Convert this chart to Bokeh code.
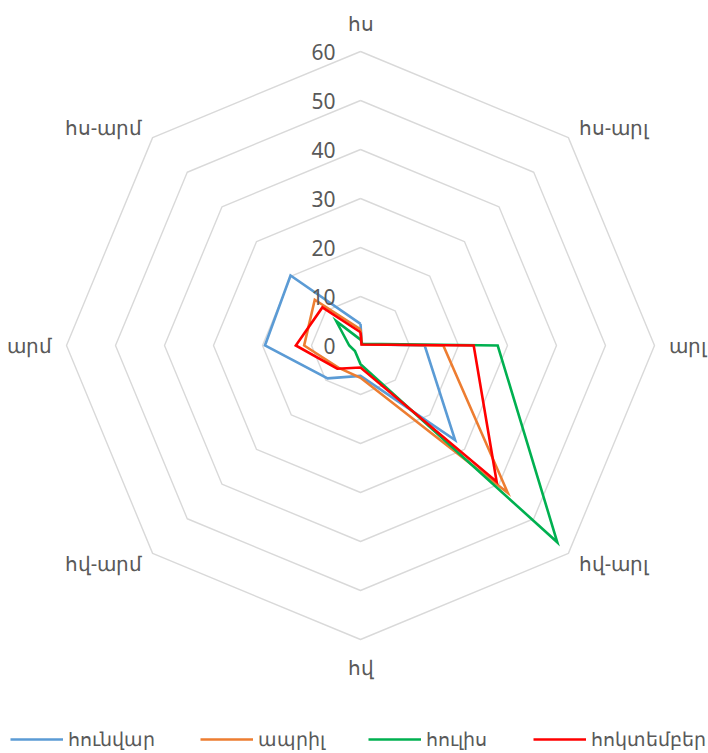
import numpy as np
from bokeh.plotting import figure
from bokeh.models import Range1d, ColumnDataSource, Legend, LegendItem
from bokeh.core.properties import value
from bokeh.embed import file_html
from bokeh.resources import INLINE

# ---- data ----
categories = ["հս", "հս-արլ", "արլ", "հվ-արլ", "հվ", "հվ-արմ", "արմ", "հս-արմ"]
series_names = ["հունվար", "ապրիլ", "հուլիս", "հոկտեմբեր"]
jan = [4.4, 0.4, 13.1, 27.3, 6.2, 9.5, 19.5, 20.2]
apr = [3.3, 0.4, 16.9, 42.5, 6.6, 6.4, 11.5, 13.2]
jul = [1.2, 0.5, 28.0, 56.8, 3.8, 1.6, 2.3, 7.0]
octo = [2.7, 0.3, 23.1, 39.3, 4.5, 6.7, 13.2, 11.0]
ticks = [0, 10, 20, 30, 40, 50, 60]
colors = ["#5B9BD5", "#ED7D31", "#00B050", "#FF0000"]

W, H = 708, 753
CX, CY = 360, 345          # centre of the radar in figure pixels (from top-left)
PPU = 294 / 60.0           # pixels per data unit
FONT = "Noto Sans"
TXT = "#595959"

p = figure(width=W, height=H, output_backend="svg", toolbar_location=None,
           x_range=Range1d(-CX / PPU, (W - CX) / PPU),
           y_range=Range1d(-(H - CY) / PPU, CY / PPU),
           min_border=0, outline_line_color=None)
p.axis.visible = False
p.grid.visible = False
p.background_fill_color = "white"

n = len(categories)
ang = np.pi / 2 - np.arange(n) * 2 * np.pi / n   # clockwise from north
ca, sa = np.cos(ang), np.sin(ang)

# grid octagons
for t in ticks[1:]:
    xs = list(t * ca) + [t * ca[0]]
    ys = list(t * sa) + [t * sa[0]]
    p.line(xs, ys, line_color="#D9D9D9", line_width=1.4)

# series
renderers = []
for vals, col in zip([jan, apr, jul, octo], colors):
    v = np.array(vals, dtype=float)
    xs = list(v * ca) + [v[0] * ca[0]]
    ys = list(v * sa) + [v[0] * sa[0]]
    r = p.line(xs, ys, line_color=col, line_width=2.6, line_join="miter")
    renderers.append(r)

# tick labels along north axis
p.text(x=[0] * len(ticks), y=ticks, text=[str(t) for t in ticks],
       text_align="right", text_baseline="middle", x_offset=-25,
       text_font=value(FONT), text_font_size="21px", text_color=TXT)

# category labels
R = 63.0
aligns, bases = [], []
for i in range(n):
    c = ca[i]
    if abs(c) < 1e-6:
        aligns.append("center")
        bases.append("bottom" if sa[i] > 0 else "top")
    else:
        aligns.append("left" if c > 0 else "right")
        bases.append("middle")
src = ColumnDataSource(dict(x=R * ca, y=R * sa, t=categories, a=aligns, b=bases))
p.text(x="x", y="y", text="t", text_align="a", text_baseline="b", source=src,
       text_font=value(FONT), text_font_size="20px", text_color=TXT)

# legend: one box per series
leg_x = [10, 200, 368, 533]
for name, r, lx in zip(series_names, renderers, leg_x):
    lg = Legend(items=[LegendItem(label=name, renderers=[r])], location=(lx, 1),
                orientation="horizontal", glyph_width=53, glyph_height=20,
                label_standoff=5, padding=0, margin=0, spacing=0,
                border_line_color=None, background_fill_alpha=0,
                label_text_font=FONT, label_text_font_size="19px",
                label_text_color=TXT)
    p.add_layout(lg, "center")

open("out.html", "w").write(file_html(p, INLINE))
